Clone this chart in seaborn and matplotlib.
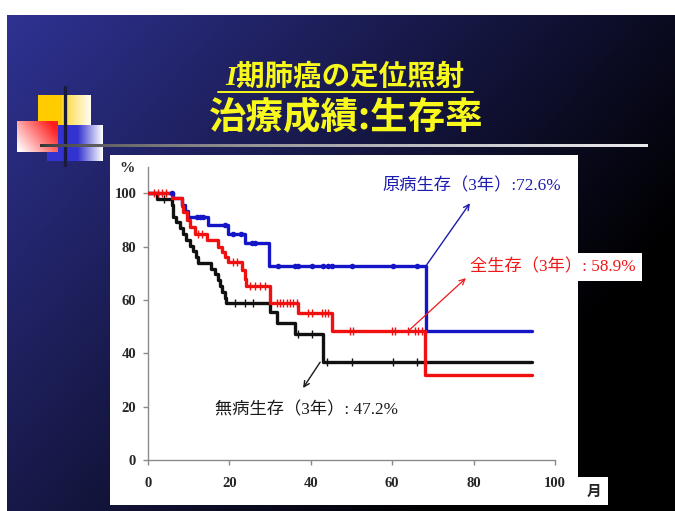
import numpy as np
import pandas as pd
import matplotlib
matplotlib.use("Agg")
import matplotlib.pyplot as plt
from matplotlib.patches import Rectangle
import seaborn as sns

# Kaplan-Meier step data (months, survival %)
months_dss = [0, 6.2, 8.3, 9.1, 9.9, 14.8, 19.7, 23.8, 29.8, 68.2, 94.3]
surv_dss = [100, 98.4, 95.5, 93.2, 91.0, 88.2, 84.9, 81.2, 72.6, 48.4, 48.4]
cens_dss = [5.8, 12.0, 12.8, 13.4, 19.0, 21.0, 22.8, 25.5, 26.3, 32.0, 36.1,
            36.9, 40.2, 43.1, 44.3, 45.1, 50.0, 60.3, 66.0]

months_os = [0, 5.8, 8.3, 8.7, 9.5, 10.3, 11.5, 14.4, 17.3, 18.1, 18.9, 19.7,
             23.0, 23.8, 24.2, 30.0, 36.9, 45.1, 68.0, 94.3]
surv_os = [100, 98.2, 95.2, 93.0, 89.9, 87.4, 84.9, 82.4, 79.9, 78.0, 76.1, 74.3,
           71.2, 68.0, 65.3, 58.9, 55.2, 48.3, 31.8, 31.8]
cens_os = [1.5, 2.5, 3.5, 4.5, 12.4, 13.2, 21.0, 21.8, 25.0, 26.3, 27.5, 28.7,
           31.6, 32.4, 33.2, 34.1, 34.9, 35.7, 36.5, 39.4, 40.2, 42.7, 43.5, 44.3,
           49.6, 50.4, 59.9, 60.7, 64.0, 65.6, 66.4, 67.2]

months_dfs = [0, 2.1, 5.8, 6.2, 7.0, 7.8, 8.5, 9.4, 10.3, 11.0, 11.8, 12.4, 15.6,
              16.4, 17.1, 17.6, 18.2, 18.8, 19.2, 30.0, 31.6, 36.0, 43.1, 94.3]
surv_dfs = [100, 97.8, 95.6, 91.3, 89.1, 87.0, 84.8, 82.6, 80.4, 78.3, 76.1, 73.9,
            71.7, 69.6, 67.4, 65.2, 63.0, 60.9, 59.0, 55.5, 51.4, 47.2, 36.8, 36.8]
cens_dfs = [4.0, 21.4, 23.8, 25.9, 36.9, 40.2, 43.9, 50.0, 60.3, 66.0]

curve_names = ["無病生存", "原病生存", "全生存"]
curve_colors = {"無病生存": "#111111", "原病生存": "#1515c8", "全生存": "#f01010"}

x_ticks = [0, 20, 40, 60, 80, 100]
y_ticks = [0, 20, 40, 60, 80, 100]

title_1 = "I期肺癌の定位照射"
title_2 = "治療成績:生存率"
label_dss = "原病生存（3年）:72.6%"
label_os = "全生存（3年）: 58.9%"
label_dfs = "無病生存（3年）: 47.2%"

sns.set_style("white")
plt.rcParams["font.family"] = ["Liberation Serif", "Noto Sans CJK JP", "DejaVu Sans"]

W, H = 675, 511
fig = plt.figure(figsize=(W / 100, H / 100), dpi=100)
fig.patch.set_facecolor("white")

# ---- slide background (pixel coordinates, y downward) ----
bg = fig.add_axes([0, 0, 1, 1])
bg.set_xlim(0, W)
bg.set_ylim(H, 0)
bg.axis("off")

gy, gx = np.mgrid[0:1:200j, 0:1:260j]
fade = np.clip(1 - 0.78 * gx - 0.5 * gy, 0, 1)[..., None]
top_left = np.array([47, 50, 146]) / 255
bg.imshow(fade * top_left, extent=(7, W, H, 15), aspect="auto", zorder=0)


def grad_square(x0, y0, w, h, rgb, zorder):
    bg.imshow(rgb, extent=(x0, x0 + w, y0 + h, y0), aspect="auto",
              interpolation="bilinear", zorder=zorder)


# yellow block: solid left half, fading to white on the right
u = np.linspace(0, 1, 60)
t = np.clip((u - 0.45) / 0.55, 0, 1) * 0.75 + (u > 0.45) * 0.2
yel = np.array([1.0, 0.8, 0.0])
row = yel[None, :] * (1 - t[:, None]) + t[:, None]
grad_square(38, 95, 53, 30, np.repeat(row[None], 10, axis=0), 1)

# blue block: solid left part, fading to white
t = np.clip((u - 0.55) / 0.45, 0, 1)
blu = np.array([0.2, 0.2, 0.82])
row = blu[None, :] * (1 - t[:, None]) + t[:, None]
grad_square(47, 125, 56, 36, np.repeat(row[None], 10, axis=0), 2)

# pink block: red at top-right, white at bottom-left
py_, px_ = np.mgrid[0:1:40j, 0:1:50j]
s = np.clip(0.75 * px_ + 0.45 * (1 - py_) - 0.05, 0, 1)[..., None]
red = np.array([1.0, 0.12, 0.12])
grad_square(17, 121, 41, 31, s * red + (1 - s) * np.ones(3), 3)

# cross lines
bg.plot([65, 65], [87, 165], color="#1a1a3a", lw=2.4, zorder=4)
t = np.linspace(0, 1, 300)
shade = np.clip(0.2 + 0.72 * t ** 0.6, 0, 1)
strip = np.repeat(np.stack([shade, shade, shade * 1.02], axis=-1)[None], 3, axis=0)
bg.imshow(np.clip(strip, 0, 1), extent=(40, 648, 147.5, 144.5), aspect="auto", zorder=4)

# title
yellow = "#f8f81c"
bg.text(345, 77, title_1, color=yellow, fontsize=20.5, fontweight="bold",
        style="italic", ha="center", va="center",
        family=["Liberation Serif", "Noto Sans CJK JP"], zorder=5)
bg.plot([218, 473], [92, 92], color=yellow, lw=1.4, zorder=5)
bg.text(346, 117, title_2, color=yellow, fontsize=27, fontweight="bold",
        ha="center", va="center", family=["Noto Sans CJK JP"], zorder=5)

# white chart panel and unit box
bg.add_patch(Rectangle((110, 155), 468, 350, facecolor="white", edgecolor="none", zorder=5))
bg.add_patch(Rectangle((578, 477), 30, 28, facecolor="white", edgecolor="none", zorder=5))
bg.text(594, 491, "月", fontsize=10.5, fontweight="bold", ha="center", va="center",
        family=["Noto Sans CJK JP"], zorder=6)
bg.text(127, 169, "%", fontsize=11, fontweight="bold", ha="center", va="center",
        family=["Liberation Serif"], zorder=6)
bg.set_xlim(0, W)
bg.set_ylim(H, 0)

# ---- survival chart ----
ax = fig.add_axes([148 / W, 1 - 460 / H, 407 / W, (460 - 166.7) / H])
ax.set_facecolor("none")

frames = []
for name, mo, sv in [("無病生存", months_dfs, surv_dfs),
                     ("原病生存", months_dss, surv_dss),
                     ("全生存", months_os, surv_os)]:
    frames.append(pd.DataFrame({"month": mo, "surv": sv, "curve": name}))
curves = pd.concat(frames, ignore_index=True)

sns.lineplot(data=curves, x="month", y="surv", hue="curve", hue_order=curve_names,
             palette=curve_colors, drawstyle="steps-post", linewidth=2.4,
             estimator=None, legend=False, ax=ax, zorder=3)


def step_value(months, surv, at):
    idx = np.searchsorted(np.asarray(months), np.asarray(at), side="right") - 1
    return np.asarray(surv)[idx]


sns.scatterplot(x=cens_dfs, y=step_value(months_dfs, surv_dfs, cens_dfs),
                marker="|", color=curve_colors["無病生存"], s=28, linewidth=1.0,
                ax=ax, zorder=4)
sns.scatterplot(x=cens_dss, y=step_value(months_dss, surv_dss, cens_dss),
                marker="o", color=curve_colors["原病生存"], s=16, linewidth=0,
                ax=ax, zorder=4)
sns.scatterplot(x=cens_os, y=step_value(months_os, surv_os, cens_os),
                marker="|", color=curve_colors["全生存"], s=28, linewidth=1.0,
                ax=ax, zorder=5)

ax.set_xlim(0, 100)
ax.set_ylim(0, 110)
ax.set_xticks(x_ticks)
ax.set_yticks(y_ticks)
ax.set_xlabel("")
ax.set_ylabel("")
for side in ["top", "right"]:
    ax.spines[side].set_visible(False)
for side in ["left", "bottom"]:
    ax.spines[side].set_color("#8a8a8a")
    ax.spines[side].set_linewidth(1.0)
ax.tick_params(axis="both", direction="out", length=3.5, width=1, color="#8a8a8a",
               left=True, bottom=True)
ax.tick_params(axis="y", pad=5)
ax.tick_params(axis="x", pad=9)
for lab in ax.get_xticklabels() + ax.get_yticklabels():
    lab.set_fontfamily("Liberation Serif")
    lab.set_fontweight("bold")
    lab.set_fontsize(10.5)

# annotations
lab_fam = ["Liberation Serif", "Noto Sans CJK JP"]
ax.text(57.7, 102.6, label_dss, color="#1c1cb0", fontsize=12.4, ha="left",
        va="center", family=lab_fam, clip_on=False, zorder=6)
ax.annotate("", xy=(79.1, 96.3), xytext=(68.2, 72.6),
            arrowprops=dict(arrowstyle="->", color="#1c1cb0", lw=1.0,
                            shrinkA=0, shrinkB=0), annotation_clip=False)
ax.text(79.1, 72.3, label_os, color="#f01818", fontsize=12.4, ha="left",
        va="center", family=lab_fam, clip_on=False, zorder=6,
        bbox=dict(boxstyle="square,pad=0.35", facecolor="white", edgecolor="none"))
ax.annotate("", xy=(78.1, 68.2), xytext=(63.9, 48.3),
            arrowprops=dict(arrowstyle="->", color="#f01818", lw=0.9,
                            shrinkA=0, shrinkB=0), annotation_clip=False, zorder=7)
ax.text(16.5, 18.7, label_dfs, color="#1a1a1a", fontsize=12.4, ha="left",
        va="center", family=lab_fam, clip_on=False, zorder=6)
ax.annotate("", xy=(38.1, 27.0), xytext=(42.3, 36.7),
            arrowprops=dict(arrowstyle="->", color="#1a1a1a", lw=1.0,
                            shrinkA=0, shrinkB=0), annotation_clip=False)

fig.savefig("out.png", dpi=100, facecolor=fig.get_facecolor())
